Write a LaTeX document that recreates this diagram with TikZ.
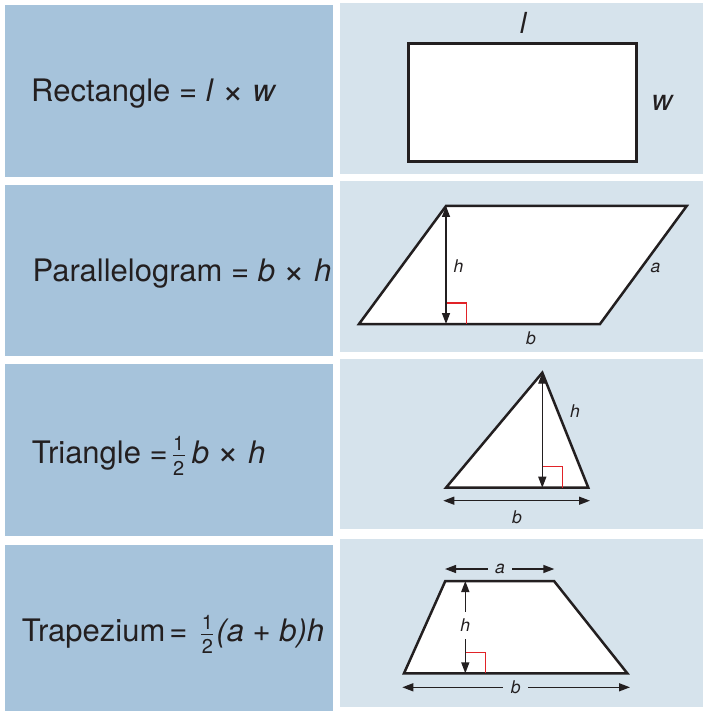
\documentclass[tikz,border=0pt]{standalone}
\usepackage{fontspec}
\setmainfont{TeX Gyre Heros}
\usetikzlibrary{arrows.meta}
\definecolor{leftblue}{RGB}{166,195,219}
\definecolor{rightblue}{RGB}{214,227,236}
\definecolor{ink}{RGB}{35,31,32}
\definecolor{markred}{RGB}{225,35,40}
\newcommand\myhalf{\raisebox{-11.7pt}{\fontsize{20}{20}\selectfont\vbox{\hbox to 12pt{\hss 1\hss}\kern 4.5pt\hrule height 1.2pt\kern 4.5pt\hbox to 12pt{\hss 2\hss}}}}
\newcommand\tms{\raisebox{-1.5pt}{\scalebox{1.2}{×}}}
\tikzset{
  leftpanel/.style={fill=leftblue, draw=none},
  rightpanel/.style={fill=rightblue, draw=none},
  formula/.style={anchor=base west, inner sep=0pt, text=ink, font=\fontsize{31}{36}\selectfont},
  shapeline/.style={draw=ink, line width=2.5pt, fill=white, line join=miter},
  dimarrow/.style={draw=ink, line width=1.4pt, {Triangle[length=11pt,width=8pt]}-{Triangle[length=11pt,width=8pt]}},
  rightangle/.style={draw=markred, line width=1.3pt},
  biglabel/.style={anchor=base, inner sep=0pt, text=ink, font=\fontsize{29}{34}\selectfont\itshape},
  smalllabel/.style={anchor=base, inner sep=0pt, text=ink, font=\fontsize{17.5}{20}\selectfont\itshape},
  hgaplabel/.style={anchor=base, inner xsep=7.5pt, inner ysep=1pt, text=ink, font=\fontsize{17.5}{20}\selectfont\itshape, fill=rightblue},
  vgaplabel/.style={anchor=base, inner xsep=1pt, inner ysep=7pt, text=ink, font=\fontsize{17.5}{20}\selectfont\itshape, fill=white},
}
\begin{document}
\begin{tikzpicture}[x=1pt,y=-1pt]
\useasboundingbox (0,0) rectangle (704,711);
% panels
\fill[leftpanel] (5,5.3) rectangle (333,177);
\fill[leftpanel] (5,184.7) rectangle (333,355.7);
\fill[leftpanel] (5,364.3) rectangle (333,535.7);
\fill[leftpanel] (5,545) rectangle (333,711);
\fill[rightpanel] (340,3.3) rectangle (703,173.7);
\fill[rightpanel] (340,181) rectangle (703,352.3);
\fill[rightpanel] (340,359.3) rectangle (703,529);
\fill[rightpanel] (340,538.7) rectangle (703,706.7);

% formulas
\begin{scope}
\clip (5,5.3) rectangle (333,177);
\node[formula] (frect) at (31,101.7) {Rectangle = \textit{l} {\tms} \textit{w}};
\end{scope}
\begin{scope}
\clip (5,184.7) rectangle (333,355.7);
\node[formula] (fpar) at (32.3,281.7) {Parallelogram = \textit{b} {\tms} \textit{h}};
\end{scope}
\begin{scope}
\clip (5,364.3) rectangle (333,535.7);
\node[formula] (ftri) at (31.7,463.3) {Triangle =\hspace{5pt}\myhalf\hspace{7pt}\textit{b} {\tms} \textit{h}};
\end{scope}
\begin{scope}
\clip (5,545) rectangle (333,711);
\node[formula] (ftrap) at (21.7,641.7) {Trapezium\hspace{4pt}=\hspace{14pt}\myhalf\hspace{3pt}\textit{(a} + \textit{b)h}};
\end{scope}

% rectangle
\coordinate (r1) at (408,43.3);
\coordinate (r2) at (636.7,162);
\draw[shapeline, line width=3pt] (r1) rectangle (r2);
\node[biglabel] (rl) at (523,34) {l};
\node[biglabel] (rw) at (662,111) {w};

% parallelogram
\coordinate (p1) at (446,206);
\coordinate (p2) at (686.7,206);
\coordinate (p3) at (600,324);
\coordinate (p4) at (359,324);
\coordinate (pf) at (446,324);
\draw[shapeline] (p1) -- (p2) -- (p3) -- (p4) -- cycle;
\coordinate (pra1) at (446,303);
\coordinate (pra2) at (466.5,303);
\coordinate (pra3) at (466.5,324);
\draw[rightangle] (pra1) -- (pra2) -- (pra3);
\draw[dimarrow] (p1) -- (pf);
\node[smalllabel] (ph) at (458.5,272.7) {h};
\node[smalllabel] (pa) at (655.5,272.7) {a};
\node[smalllabel] (pb) at (531,344) {b};

% triangle
\coordinate (t1) at (542.3,372.7);
\coordinate (t2) at (588.3,487.7);
\coordinate (t3) at (446,487.7);
\coordinate (tf) at (542.3,487.7);
\draw[shapeline] (t1) -- (t2) -- (t3) -- cycle;
\coordinate (tra1) at (542.3,466.7);
\coordinate (tra2) at (562.3,466.7);
\coordinate (tra3) at (562.3,487.7);
\draw[rightangle] (tra1) -- (tra2) -- (tra3);
\draw[dimarrow] (t1) -- (tf);
\coordinate (tb1) at (443.3,500.7);
\coordinate (tb2) at (590,500.7);
\draw[dimarrow] (tb1) -- (tb2);
\node[smalllabel] (th) at (575,417.3) {h};
\node[smalllabel] (tb) at (517,523.3) {b};

% trapezium
\coordinate (z1) at (445.3,581);
\coordinate (z2) at (554,581);
\coordinate (z3) at (627.3,673.3);
\coordinate (z4) at (404,673.3);
\coordinate (zf) at (465.3,673.3);
\coordinate (zt) at (465.3,581);
\draw[shapeline] (z1) -- (z2) -- (z3) -- (z4) -- cycle;
\coordinate (zra1) at (465.3,652.3);
\coordinate (zra2) at (485.7,652.3);
\coordinate (zra3) at (485.7,673.3);
\draw[rightangle] (zra1) -- (zra2) -- (zra3);
\draw[dimarrow] (zt) -- (zf);
\coordinate (za1) at (445,569);
\coordinate (za2) at (554.3,569);
\draw[dimarrow] (za1) -- (za2);
\coordinate (zb1) at (402.3,687.3);
\coordinate (zb2) at (630,687.3);
\draw[dimarrow] (zb1) -- (zb2);
\node[vgaplabel] (zh) at (465.3,631.7) {h};
\node[hgaplabel] (za) at (500,573.3) {a};
\node[hgaplabel] (zb) at (515.7,693.3) {b};
\end{tikzpicture}
\end{document}
